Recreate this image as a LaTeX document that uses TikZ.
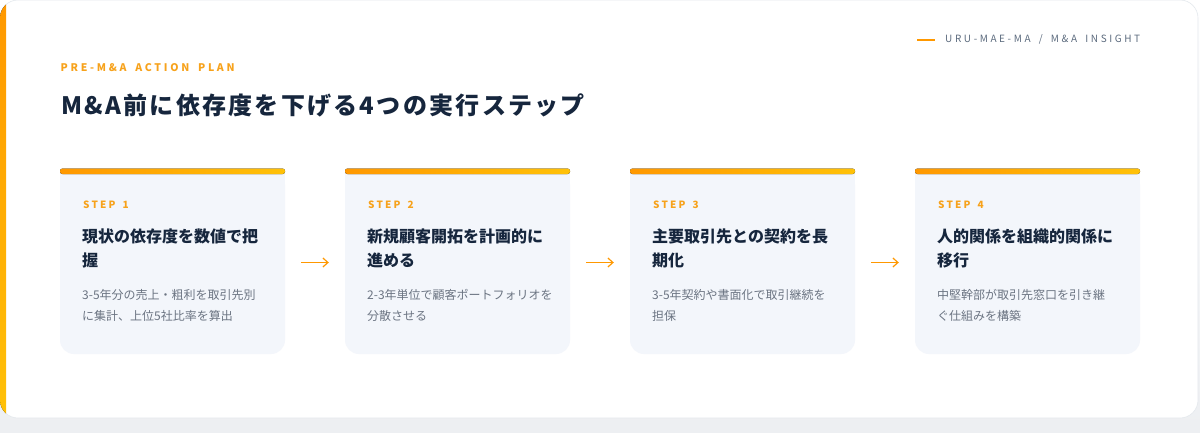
\documentclass[tikz,border=0pt]{standalone}
\usepackage{fontspec}
\setmainfont{Noto Sans CJK JP}
\newfontfamily\kickerfont[LetterSpace=26,WordSpace=1.7]{Noto Sans CJK JP}
\newfontfamily\stepfont[LetterSpace=22,WordSpace=1.6]{Noto Sans CJK JP}
\newfontfamily\headfont[LetterSpace=9.5]{Noto Sans CJK JP}
\usetikzlibrary{arrows.meta}

\definecolor{amber}{HTML}{FF9800}
\definecolor{gold}{HTML}{FFC107}
\definecolor{labelor}{HTML}{F7A21B}
\definecolor{navy}{HTML}{16263D}
\definecolor{slate}{HTML}{5C6B7E}
\definecolor{descgray}{HTML}{6B7482}
\definecolor{boxbg}{HTML}{F3F6FB}
\definecolor{pagegray}{HTML}{EDEFF2}
\definecolor{cardline}{HTML}{E4E8ED}

\tikzset{
  stepbox/.style={rectangle, fill=boxbg, rounded corners=14pt,
    minimum width=225pt, minimum height=183pt, inner sep=0pt},
  topbar/.style={left color=amber, right color=gold, rounded corners=2.5pt},
  steplabel/.style={anchor=west, inner sep=0pt, text=labelor,
    font=\stepfont\bfseries\fontsize{10}{12}\selectfont},
  steptitle/.style={anchor=north west, inner sep=0pt, align=left, text=navy,
    font=\bfseries\fontsize{16}{24}\selectfont},
  stepdesc/.style={anchor=north west, inner sep=0pt, align=left, text=descgray,
    font=\fontsize{12}{21}\selectfont},
  flow/.style={-{Straight Barb[length=5pt,width=9pt]}, draw=amber,
    line width=1.2pt, shorten <=16pt, shorten >=16pt},
}

\begin{document}
\begin{tikzpicture}[x=1pt,y=-1pt]
\useasboundingbox (0,0) rectangle (1200,432);

% page and card
\fill[top color=white, bottom color=pagegray] (0,0) rectangle (1200,432);
\fill[white, draw=cardline, line width=.6pt, rounded corners=18pt] (0,0) rectangle (1198,418);
\begin{scope}
\clip[rounded corners=18pt] (0,0) rectangle (1198,418);
\fill[top color=amber, bottom color=gold] (0,0) rectangle (6,418);
\end{scope}

% header
\node[anchor=west, inner sep=0pt, text=slate,
  font=\kickerfont\fontsize{10}{12}\selectfont] (brand) at (945,39.5) {URU-MAE-MA / M\&A INSIGHT};
\draw[amber, line width=2pt] ([xshift=-28pt]brand.west) -- ([xshift=-10pt]brand.west);
\node[anchor=west, inner sep=0pt, text=labelor,
  font=\kickerfont\bfseries\fontsize{10.5}{12}\selectfont] (kicker) at (60.5,67.7) {PRE-M\&A ACTION PLAN};
\node[anchor=base west, inner sep=0pt, text=navy,
  font=\headfont\bfseries\fontsize{24}{28}\selectfont] (title) at (61,114) {M\&A前に依存度を下げる4つの実行ステップ};

% steps
\node[stepbox] (s1) at (172.5,262.5) {};
\node[stepbox] (s2) at (457.5,262.5) {};
\node[stepbox] (s3) at (742.5,262.5) {};
\node[stepbox] (s4) at (1027.5,262.5) {};

\fill[boxbg] (60,171) rectangle (285,186);
\fill[boxbg] (345,171) rectangle (570,186);
\fill[boxbg] (630,171) rectangle (855,186);
\fill[boxbg] (915,171) rectangle (1140,186);
\fill[topbar] (60,168.5) rectangle (285,174);
\fill[topbar] (345,168.5) rectangle (570,174);
\fill[topbar] (630,168.5) rectangle (855,174);
\fill[topbar] (915,168.5) rectangle (1140,174);

\node[steplabel] (l1) at (83,205) {STEP 1};
\node[steplabel] (l2) at (368,205) {STEP 2};
\node[steplabel] (l3) at (653,205) {STEP 3};
\node[steplabel] (l4) at (938,205) {STEP 4};

\node[steptitle] (t1) at (82,229) {現状の依存度を数値で把\\握};
\node[steptitle] (t2) at (367,229) {新規顧客開拓を計画的に\\進める};
\node[steptitle] (t3) at (652,229) {主要取引先との契約を長\\期化};
\node[steptitle] (t4) at (937,229) {人的関係を組織的関係に\\移行};

\node[stepdesc] (d1) at (82,289.5) {3-5年分の売上・粗利を取引先別\\に集計、上位5社比率を算出};
\node[stepdesc] (d2) at (367,289.5) {2-3年単位で顧客ポートフォリオを\\分散させる};
\node[stepdesc] (d3) at (652,289.5) {3-5年契約や書面化で取引継続を\\担保};
\node[stepdesc] (d4) at (937,289.5) {中堅幹部が取引先窓口を引き継\\ぐ仕組みを構築};

\draw[flow] (s1) -- (s2);
\draw[flow] (s2) -- (s3);
\draw[flow] (s3) -- (s4);

\end{tikzpicture}
\end{document}
